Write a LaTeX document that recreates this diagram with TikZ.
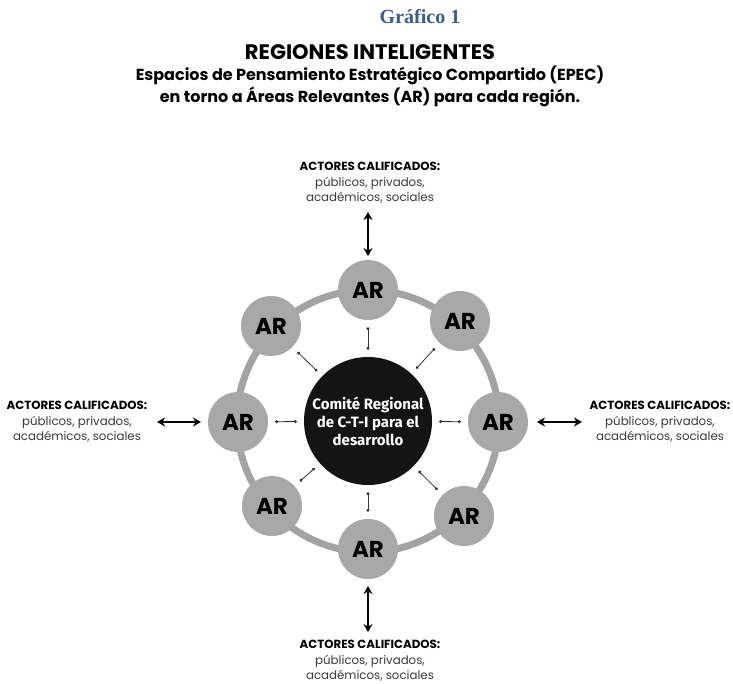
\documentclass[tikz,border=0pt]{standalone}
\usepackage{fontspec}
\setmainfont{Poppins}
\newfontfamily\serifbold{Liberation Serif}
\newfontfamily\firab{Fira Sans}
\usetikzlibrary{arrows.meta}
\definecolor{ttlblue}{HTML}{3B5B8E}
\definecolor{ringgray}{HTML}{A3A3A3}
\definecolor{argray}{HTML}{A8A8A8}
\definecolor{subgray}{HTML}{3A3A3A}
\begin{document}
\begin{tikzpicture}[x=1pt,y=-1pt,
  arnode/.style={circle,fill=argray,minimum size=60pt,inner sep=0pt,font=\fontsize{23}{24}\selectfont\bfseries},
  actors/.style={align=center,font=\fontsize{11.8}{15.5}\selectfont,text=subgray},
  bigarr/.style={line width=2.8pt,{Stealth[length=8pt,width=9pt]}-{Stealth[length=8pt,width=9pt]}},
  smallarr/.style={line width=0.8pt,draw=black!80,{Circle[length=3pt]}-{Circle[length=3pt]},shorten >=7pt,shorten <=7pt}]
\useasboundingbox (0,0) rectangle (733,684);
\fill[white] (0,0) rectangle (733,684);
% titles
\node (g1) at (420,17) {\serifbold\fontsize{20}{22}\selectfont\bfseries\color{ttlblue}Gráfico 1};
\node (t1) at (370,52) {\fontsize{21}{22}\selectfont\bfseries REGIONES INTELIGENTES};
\node (t2) [align=center,font=\fontsize{16}{22}\selectfont\bfseries] at (370,86) {Espacios de Pensamiento Estratégico Compartido (EPEC)\\en torno a Áreas Relevantes (AR) para cada región.};
% ring
\draw[ringgray,line width=7pt] (368,421) circle (131);
% center
\node (c) [circle,fill=black!92,minimum size=128pt,inner sep=0pt,align=center,text=white,font=\firab\fontsize{15}{18}\selectfont\bfseries] at (368,421) {Comité Regional\\de C-T-I para el\\desarrollo};
% AR nodes
\node[arnode] (n) at (368,290) {AR};
\node[arnode] (ne) at (460,321) {AR};
\node[arnode] (e) at (498,422) {AR};
\node[arnode] (se) at (464,516) {AR};
\node[arnode] (s) at (368,549) {AR};
\node[arnode] (sw) at (272,506) {AR};
\node[arnode] (w) at (238,422) {AR};
\node[arnode] (nw) at (271,326) {AR};
% small arrows
\foreach \a in {n,ne,e,se,s,sw,w,nw} {\draw[smallarr] (c) -- (\a);}
% actors
\node[actors] (an) at (370,183) {\textbf{\color{black}ACTORES CALIFICADOS:}\\públicos, privados,\\académicos, sociales};
\node[actors] (as) at (370,661) {\textbf{\color{black}ACTORES CALIFICADOS:}\\públicos, privados,\\académicos, sociales};
\node[actors] (aw) at (77,422) {\textbf{\color{black}ACTORES CALIFICADOS:}\\públicos, privados,\\académicos, sociales};
\node[actors] (ae) at (660,422) {\textbf{\color{black}ACTORES CALIFICADOS:}\\públicos, privados,\\académicos, sociales};
% big arrows
\coordinate (pn1) at (368,212); \coordinate (pn2) at (368,256);
\coordinate (ps1) at (368,586); \coordinate (ps2) at (368,632);
\coordinate (pw1) at (157,422); \coordinate (pw2) at (201,422);
\coordinate (pe1) at (537,422); \coordinate (pe2) at (582,422);
\draw[bigarr] (pn1) -- (pn2);
\draw[bigarr] (ps1) -- (ps2);
\draw[bigarr] (pw1) -- (pw2);
\draw[bigarr] (pe1) -- (pe2);
\end{tikzpicture}
\end{document}
